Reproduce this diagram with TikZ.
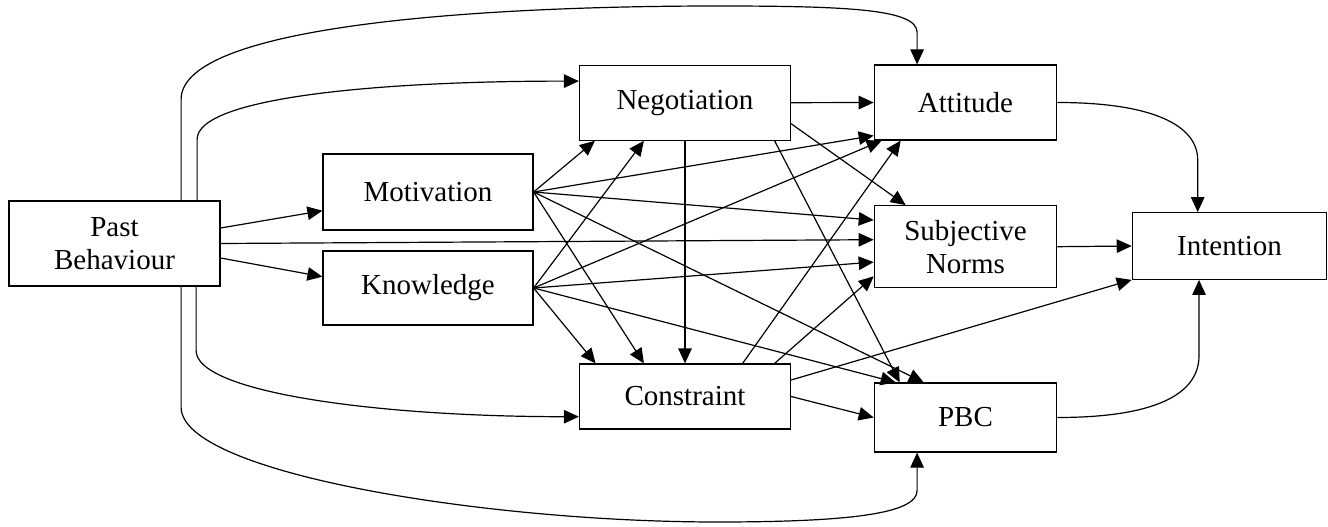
\documentclass[tikz,border=0pt]{standalone}
\usepackage{fontspec}
\setmainfont{Liberation Serif}
\usetikzlibrary{arrows.meta,calc}
\tikzset{
  box/.style={draw, rectangle, line width=1.2pt, inner sep=0pt, align=center,
              font=\fontsize{29}{33}\selectfont},
  arr/.style={-{Triangle[length=15pt,width=13.5pt]}, line width=1.2pt}
}
\begin{document}
\begin{tikzpicture}[x=1pt,y=-1pt]
\useasboundingbox (0,0) rectangle (1328,527);

% boxes
\node[box, minimum width=211pt, minimum height=85pt] (pb) at (114.5,243.5) {Past\\Behaviour};
\node[box, minimum width=210pt, minimum height=76pt] (mot) at (428,192) {Motivation};
\node[box, minimum width=210pt, minimum height=74pt] (know) at (428,288) {Knowledge};
\node[box, minimum width=211pt, minimum height=75pt] (neg) at (685,102.7) {Negotiation};
\node[box, minimum width=211pt, minimum height=65pt] (con) at (685,396.5) {Constraint};
\node[box, minimum width=182.4pt, minimum height=75pt] (att) at (965.5,102.5) {Attitude};
\node[box, minimum width=182.4pt, minimum height=82pt] (sn) at (965.5,246.7) {Subjective\\Norms};
\node[box, minimum width=182.4pt, minimum height=69pt] (pbc) at (965.5,417.5) {PBC};
\node[box, minimum width=194.4pt, minimum height=66.6pt] (int) at (1229.5,246) {Intention};

% past behaviour: long routes over and under the middle columns
\draw[arr] ([xshift=172.7pt]pb.north west) -- ++(0,-101)
  .. controls +(0,-75) and +(-230,0) .. (717,6)
  .. controls +(133,0) and +(0,-23) .. ([xshift=43.4pt,yshift=32pt]att.north west)
  -- ([xshift=43.4pt]att.north west);
\draw[arr] ([xshift=188.7pt]pb.north west) -- ++(0,-61)
  .. controls +(0,-42) and +(-200,0) .. ([yshift=-16.5pt]neg.north west);
\draw[arr] ([xshift=187.7pt]pb.south west) -- ++(0,64)
  .. controls +(0,42) and +(-200,0) .. ([yshift=-20.2pt]con.west);
\draw[arr] ([xshift=172.7pt]pb.south west) -- ++(0,120.7)
  .. controls +(0,66) and +(-230,0) .. (717,522)
  .. controls +(133,0) and +(0,23) .. ([xshift=43.4pt,yshift=-38pt]pbc.south west)
  -- ([xshift=43.4pt]pbc.south west);
\draw[arr] ([yshift=15.5pt]pb.east) -- ([yshift=-18.7pt]mot.west);
\draw[arr] ([yshift=-14.5pt]pb.east) -- ([yshift=11.3pt]know.west);
\draw[arr] (pb.east) -- ([yshift=7pt]sn.west);

% motivation
\draw[arr] (mot.east) -- ([xshift=16pt]neg.south west);
\draw[arr] (mot.east) -- ([yshift=5pt]att.south west);
\draw[arr] (mot.east) -- ([yshift=-15pt]sn.north west);
\draw[arr] (mot.east) -- ([xshift=50pt]pbc.north west);
\draw[arr] (mot.east) -- ([xshift=65pt]con.north west);

% knowledge
\draw[arr] (know.east) -- ([xshift=65pt]neg.south west);
\draw[arr] (know.east) -- ([xshift=8pt]att.south west);
\draw[arr] (know.east) -- ([yshift=-57pt]sn.north west);
\draw[arr] (know.east) -- ([xshift=22pt]pbc.north west);
\draw[arr] (know.east) -- ([xshift=16.7pt]con.north west);

% negotiation
\draw[arr] (neg.east) -- (att.west);
\draw[arr] ([yshift=-21pt]neg.east) -- ([xshift=32pt]sn.north west);
\draw[arr] ([xshift=-16.5pt]neg.south east) -- ([xshift=26pt]pbc.north west);
\draw[arr] (neg.south) -- (con.north);

% constraint
\draw[arr] ([xshift=-48.5pt]con.north east) -- ([xshift=27pt]att.south west);
\draw[arr] ([xshift=-16.5pt]con.north east) -- ([yshift=12pt]sn.south west);
\draw[arr] ([yshift=16.5pt]con.east) -- (int.south west);
\draw[arr] (con.east) -- (pbc.west);

% into intention
\draw[arr] (att.east) .. controls +(95,0) and +(0,-35) ..
  ([xshift=-31.8pt,yshift=52pt]int.north) -- ([xshift=-31.8pt]int.north);
\draw[arr] (sn.east) -- (int.west);
\draw[arr] (pbc.east) .. controls +(95,0) and +(0,40) ..
  ([xshift=-30.5pt,yshift=-75.7pt]int.south) -- ([xshift=-30.5pt]int.south);
\end{tikzpicture}
\end{document}
